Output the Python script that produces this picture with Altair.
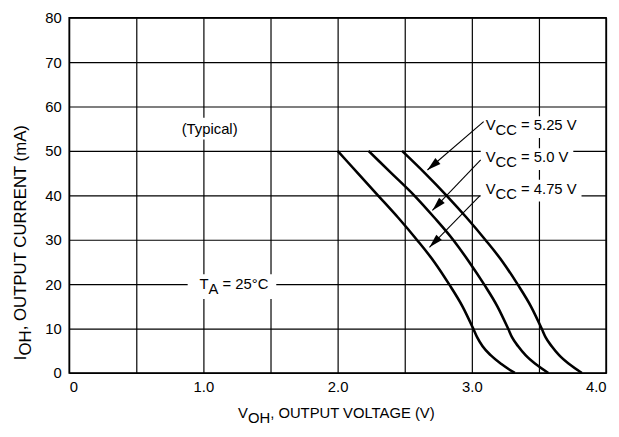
import math
import altair as alt
import pandas as pd

# ---------------- data ----------------
I_MA = [50, 45, 40, 35, 30, 25, 20, 15, 10, 8, 6, 4, 2, 0]
V_475 = [2.00, 2.15, 2.30, 2.45, 2.59, 2.72, 2.83, 2.93, 3.01, 3.04, 3.08, 3.14, 3.22, 3.32]
V_500 = [2.23, 2.40, 2.57, 2.72, 2.86, 2.98, 3.09, 3.19, 3.27, 3.30, 3.345, 3.40, 3.475, 3.57]
V_525 = [2.48, 2.65, 2.81, 2.96, 3.10, 3.23, 3.34, 3.44, 3.52, 3.55, 3.595, 3.65, 3.725, 3.82]
SERIES = ["4.75", "5.0", "5.25"]

X_GRID = [0, 0.5, 1.0, 1.5, 2.0, 2.5, 3.0, 3.5, 4.0]
Y_GRID = [0, 10, 20, 30, 40, 50, 60, 70, 80]

# callout labels (left x of text in V, centre y in mA)
VCC_LABEL_X = [3.103, 3.103, 3.103]
VCC_LABEL_Y = [55.8, 48.6, 41.5]
VCC_LABEL_TXT = ["5.25 V", "5.0 V", "4.75 V"]
# arrows (start at label, tip on curve)
ARROW_X0 = [3.088, 3.066, 3.059]
ARROW_Y0 = [56.6, 48.0, 39.9]
ARROW_X1 = [2.669, 2.706, 2.684]
ARROW_Y1 = [45.7, 36.6, 28.3]

TYPICAL_XY = (0.838, 55.0)
TA_XY = (0.971, 20.0)

# ---------------- styling / layout ----------------
W, H = 544, 360
PX_PER_V = W / 4.0
PX_PER_MA = H / 80.0
FONT = "Liberation Sans"
FS = 15
FS_YT = 17
SUB_DY = 5

ARIAL = {" ": 278, "(": 333, ")": 333, ",": 278, ".": 278, "=": 584, "°": 400,
         "A": 667, "C": 722, "E": 667, "G": 778, "H": 722, "I": 278, "L": 556,
         "N": 722, "O": 778, "P": 667, "R": 722, "T": 611, "U": 722, "V": 667,
         "a": 556, "c": 500, "i": 222, "l": 222, "m": 833, "p": 556, "y": 500}


def tw(s, fs=FS):
    return sum(ARIAL.get(ch, 556) for ch in s) / 1000.0 * fs


xscale = alt.Scale(domain=[0, 4], nice=False, zero=False)
yscale = alt.Scale(domain=[0, 80], nice=False, zero=False)


def X(field):
    return alt.X(field, type="quantitative", scale=xscale, title=None)


def Y(field):
    return alt.Y(field, type="quantitative", scale=yscale, title=None)


rows = []
for name, vs in zip(SERIES, [V_475, V_500, V_525]):
    for k, (v, c) in enumerate(zip(vs, I_MA)):
        rows.append({"vcc": name, "v": v, "i": c, "k": k})
curves = pd.DataFrame(rows)

x_axis = alt.Axis(values=X_GRID, grid=True, ticks=False, tickSize=0, domain=False,
                  labelExpr="datum.value % 1 == 0 ? (datum.value == 0 ? '0' : format(datum.value, '.1f')) : ''",
                  labelFlush=True, labelPadding=7, labelFont=FONT, labelFontSize=FS,
                  labelColor="black", title=None, gridColor="black", gridWidth=1.2, gridOpacity=1)
y_axis = alt.Axis(values=Y_GRID, grid=True, ticks=False, tickSize=0, domain=False,
                  labelPadding=8, labelFont=FONT, labelFontSize=FS, labelColor="black",
                  title=None, gridColor="black", gridWidth=1.2, gridOpacity=1)

layers = []

curve_layer = alt.Chart(curves).mark_line(color="black", strokeWidth=2.6, interpolate="monotone").encode(
    x=alt.X("v:Q", scale=xscale, axis=x_axis),
    y=alt.Y("i:Q", scale=yscale, axis=y_axis),
    detail="vcc:N",
    order="k:Q",
)
layers.append(curve_layer)


def pieces(parts, fs):
    """split leading spaces off each part (SVG drops them) -> (text, sub, dx)"""
    out = []
    dx = 0.0
    for t, sub in parts:
        stripped = t.lstrip(" ")
        dx += tw(t[: len(t) - len(stripped)], fs)
        out.append((stripped, sub, dx))
        dx += tw(stripped, fs)
    return out, dx


def label(x, y, parts, box):
    """parts: list of (text, is_subscript); box: (left, right_extra, top, bottom) px"""
    items, total = pieces(parts, FS)
    left, right, top, bottom = box
    bx = pd.DataFrame({"x0": [x - left / PX_PER_V], "x1": [x + (total + right) / PX_PER_V],
                       "y0": [y - bottom / PX_PER_MA], "y1": [y + top / PX_PER_MA]})
    out = [alt.Chart(bx).mark_rect(color="white").encode(
        x=X("x0"), x2="x1", y=Y("y0"), y2="y1")]
    df = pd.DataFrame({"x": [x], "y": [y]})
    for t, sub, dx in items:
        out.append(alt.Chart(df).mark_text(text=t, align="left", baseline="middle", dx=dx,
                                           dy=SUB_DY if sub else 0, font=FONT, fontSize=FS,
                                           color="black").encode(x=X("x"), y=Y("y")))
    return out


# white boxes + texts
layers += label(TYPICAL_XY[0], TYPICAL_XY[1], [("(Typical)", False)], (4, 4, 11, 11))
layers += label(TA_XY[0], TA_XY[1], [("T", False), ("A", True), (" = 25°C", False)], (12, 8, 10, 15))
for lx, ly, lt in zip(VCC_LABEL_X, VCC_LABEL_Y, VCC_LABEL_TXT):
    layers += label(lx, ly, [("V", False), ("CC", True), (" = " + lt, False)], (5, 5, 9, 13))

# arrows
arrows = pd.DataFrame({"x0": ARROW_X0, "y0": ARROW_Y0, "x1": ARROW_X1, "y1": ARROW_Y1})
arrows["angle"] = [
    (math.degrees(math.atan2((b - a) * PX_PER_V, (d - c) * PX_PER_MA)) + 360) % 360
    for a, b, c, d in zip(arrows.x0, arrows.x1, arrows.y0, arrows.y1)
]
layers.append(alt.Chart(arrows).mark_rule(color="black", strokeWidth=1.1).encode(
    x=X("x0"), y=Y("y0"), x2="x1", y2="y1"))
layers.append(alt.Chart(arrows).mark_point(shape="M0,0L-0.28,1L0.28,1Z", filled=True, opacity=1,
                                           color="black", size=784, strokeWidth=0).encode(
    x=X("x1"), y=Y("y1"), angle=alt.Angle("angle:Q", scale=None)))

# axis titles with subscripts
one = pd.DataFrame({"a": [0]})
xt_items, xt_total = pieces([("V", False), ("OH", True), (", OUTPUT VOLTAGE (V)", False)], FS)
xstart = W / 2 - xt_total / 2
for t, sub, dx in xt_items:
    layers.append(alt.Chart(one).mark_text(text=t, align="left", baseline="middle", font=FONT,
                                           fontSize=FS, color="black").encode(
        x=alt.value(xstart + dx), y=alt.value(401 + (SUB_DY if sub else 0))))

yt_items, yt_total = pieces([("I", False), ("OH", True), (",   OUTPUT CURRENT (mA)", False)], FS_YT)
ystart = 347
for t, sub, dx in yt_items:
    layers.append(alt.Chart(one).mark_text(text=t, align="left", baseline="middle", angle=270,
                                           font=FONT, fontSize=FS_YT, color="black").encode(
        x=alt.value(-49 + (SUB_DY if sub else 0)), y=alt.value(ystart - dx)))

chart = alt.layer(*layers).properties(
    width=W, height=H,
    autosize=alt.AutoSizeParams(type="none"),
    padding={"left": 62, "top": 7, "right": 5, "bottom": 55},
    background="white",
).configure_view(stroke="black", strokeWidth=1.6)

chart.save("out.html", embed_options={"renderer": "svg", "actions": False})
